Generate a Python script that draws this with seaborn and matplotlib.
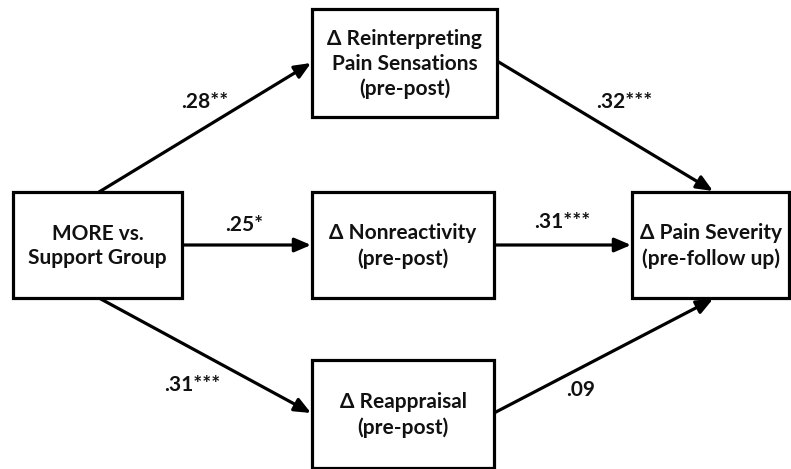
import matplotlib
matplotlib.use("Agg")
import matplotlib.pyplot as plt
import seaborn as sns
from matplotlib.patches import Rectangle

# ---- data ----
node_ids = ["x", "m1", "m2", "m3", "y"]
node_labels = [
    "MORE vs.\nSupport Group",
    "Δ Reinterpreting\nPain Sensations\n(pre-post)",
    "Δ Nonreactivity\n(pre-post)",
    "Δ Reappraisal\n(pre-post)",
    "Δ Pain Severity\n(pre-follow up)",
]
edge_from = ["x", "x", "x", "m1", "m2", "m3"]
edge_to = ["m1", "m2", "m3", "y", "y", "y"]
edge_coef = [".28**", ".25*", ".31***", ".32***", ".31***", ".09"]

# ---- layout (pixels) ----
boxes = {  # x0, y0, x1, y1
    "x": (13, 192, 182, 298),
    "m1": (312, 9, 497, 117),
    "m2": (312, 192, 494, 298),
    "m3": (312, 360, 494, 468),
    "y": (632, 192, 789, 298),
}
arrow_pts = {  # start, end
    ("x", "m1"): ((99, 192), (311, 63)),
    ("x", "m2"): ((182, 245), (311, 245)),
    ("x", "m3"): ((99, 298), (311, 413)),
    ("m1", "y"): ((497, 61), (713, 191)),
    ("m2", "y"): ((494, 245), (631, 245)),
    ("m3", "y"): ((494, 413), (713, 299)),
}
label_pos = [(205, 102), (244, 225), (192, 385), (624, 102), (562, 222), (581, 390)]

sns.set_theme(style="white")
plt.rcParams["font.family"] = ["Lato", "DejaVu Sans"]

fig = plt.figure(figsize=(7.91, 4.69), dpi=100)
ax = fig.add_axes([0, 0, 1, 1])
ax.set_xlim(0, 791)
ax.set_ylim(469, 0)
ax.axis("off")

lw = 2.3
for nid, lab in zip(node_ids, node_labels):
    x0, y0, x1, y1 = boxes[nid]
    ax.add_patch(Rectangle((x0, y0), x1 - x0, y1 - y0, fill=True,
                           facecolor="white", edgecolor="black", lw=lw, zorder=3))
    ax.text((x0 + x1) / 2, (y0 + y1) / 2 + 1, lab, ha="center", va="center",
            fontsize=15, fontweight="bold", color="#111111",
            linespacing=1.3, zorder=4)

for a, b, c, (lx, ly) in zip(edge_from, edge_to, edge_coef, label_pos):
    s, e = arrow_pts[(a, b)]
    ax.annotate("", xy=e, xytext=s,
                arrowprops=dict(arrowstyle="-|>,head_length=0.7,head_width=0.3",
                                lw=lw, color="black", shrinkA=0, shrinkB=0,
                                mutation_scale=14),
                zorder=2)
    ax.text(lx, ly, c, ha="center", va="center", fontsize=15,
            fontweight="bold", color="#111111")

fig.savefig("out.png", dpi=100, facecolor="white")
